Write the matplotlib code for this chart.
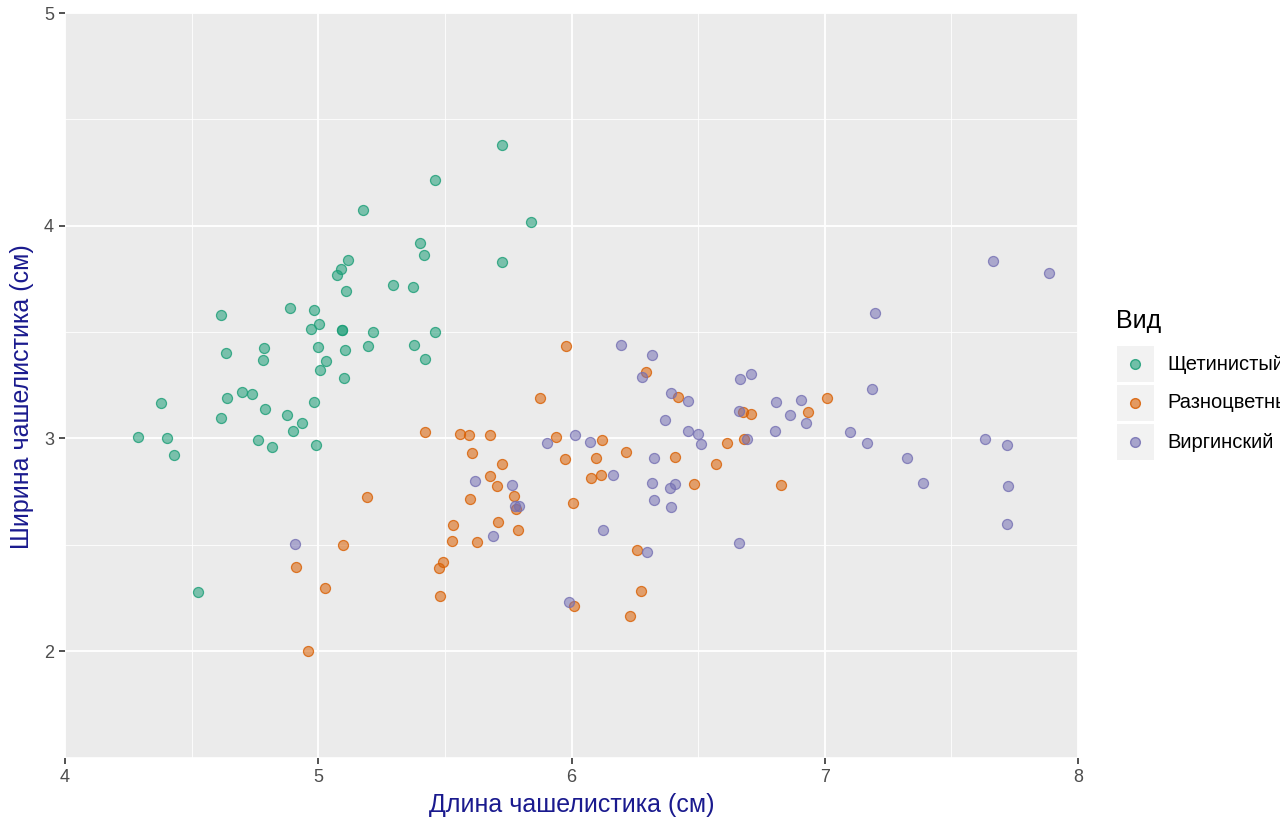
import numpy as np
import matplotlib
matplotlib.use("Agg")
from matplotlib import pyplot as plt
from matplotlib.colors import to_rgba
from matplotlib.lines import Line2D
from matplotlib.patches import Rectangle

plt.rcParams['font.family'] = ['Liberation Sans', 'DejaVu Sans']

# jittered sepal length / width
setosa_len = [5.726, 5.462, 5.178, 5.841, 5.403, 5.418, 5.117, 5.724, 5.089, 5.075,
              5.294, 5.373, 5.108, 4.617, 4.887, 4.983, 5.004, 4.971, 5.095, 5.095,
              5.215, 5.462, 4.637, 4.786, 4.999, 5.104, 5.198, 5.379, 4.781, 5.031,
              5.420, 5.008, 5.100, 4.378, 4.640, 4.698, 4.740, 4.983, 4.616, 4.791,
              4.875, 4.936, 4.900, 4.289, 4.404, 4.763, 4.990, 4.429, 4.816, 4.525]
setosa_wid = [4.381, 4.214, 4.073, 4.016, 3.917, 3.862, 3.839, 3.828, 3.797, 3.766,
              3.719, 3.711, 3.692, 3.578, 3.614, 3.602, 3.538, 3.513, 3.511, 3.511,
              3.499, 3.499, 3.402, 3.425, 3.430, 3.414, 3.433, 3.439, 3.369, 3.364,
              3.375, 3.323, 3.284, 3.166, 3.189, 3.220, 3.209, 3.172, 3.096, 3.138,
              3.108, 3.073, 3.037, 3.009, 3.002, 2.994, 2.970, 2.920, 2.961, 2.277]

versicolor_len = [5.978, 5.874, 6.294, 6.419, 5.423, 5.560, 5.594, 5.678, 5.938, 6.122,
                  5.608, 5.976, 6.097, 6.214, 6.407, 5.727, 5.677, 5.705, 6.077, 6.118,
                  5.194, 5.600, 5.772, 5.782, 6.006, 5.531, 5.710, 5.788, 5.528, 5.627,
                  5.097, 4.911, 5.493, 5.478, 5.028, 5.481, 6.259, 6.276, 6.231, 6.011,
                  4.960, 7.010, 6.679, 6.708, 6.932, 6.683, 6.615, 6.569, 6.483, 6.829]
versicolor_wid = [3.433, 3.189, 3.313, 3.193, 3.031, 3.019, 3.017, 3.016, 3.005, 2.991,
                  2.930, 2.905, 2.909, 2.938, 2.914, 2.880, 2.825, 2.778, 2.816, 2.827,
                  2.725, 2.717, 2.730, 2.670, 2.698, 2.595, 2.605, 2.570, 2.520, 2.512,
                  2.498, 2.395, 2.417, 2.392, 2.295, 2.261, 2.477, 2.281, 2.166, 2.212,
                  1.999, 3.189, 3.122, 3.114, 3.124, 2.998, 2.980, 2.878, 2.784, 2.779]

virginica_len = [7.664, 7.885, 7.198, 6.195, 6.318, 6.277, 6.393, 6.460, 7.188, 6.369,
                 6.664, 6.709, 6.806, 6.906, 6.663, 6.864, 6.927, 6.803, 6.459, 6.498,
                 6.511, 7.099, 7.166, 6.694, 6.014, 5.903, 6.073, 6.327, 7.326, 7.634,
                 7.721, 6.165, 6.318, 6.407, 6.387, 6.325, 6.393, 7.386, 7.725, 7.719,
                 6.124, 6.661, 6.298, 5.990, 5.619, 5.766, 5.777, 5.794, 5.689, 4.907]
virginica_wid = [3.833, 3.778, 3.590, 3.440, 3.392, 3.289, 3.215, 3.177, 3.234, 3.086,
                 3.278, 3.303, 3.172, 3.183, 3.130, 3.108, 3.072, 3.036, 3.036, 3.023,
                 2.975, 3.030, 2.978, 2.997, 3.016, 2.978, 2.981, 2.909, 2.909, 2.997,
                 2.967, 2.828, 2.789, 2.788, 2.767, 2.711, 2.678, 2.791, 2.777, 2.599,
                 2.569, 2.508, 2.467, 2.230, 2.798, 2.780, 2.683, 2.683, 2.539, 2.506]

species = ['Щетинистый', 'Разноцветный', 'Виргинский']
colors = ['#1B9E77', '#D95F02', '#7570B3']
series = [(setosa_len, setosa_wid), (versicolor_len, versicolor_wid), (virginica_len, virginica_wid)]

x_ticks = [4, 5, 6, 7, 8]
y_ticks = [2, 3, 4, 5]

fig = plt.figure(figsize=(12.8, 8.32), dpi=100)
ax = fig.add_axes([65 / 1280, 1 - 757.5 / 832, (1078 - 65) / 1280, (757.5 - 13) / 832])
ax.set_facecolor('#EBEBEB')

for (xs, ys), c in zip(series, colors):
    ax.scatter(xs, ys, s=52, facecolor=to_rgba(c, 0.55), edgecolors=to_rgba(c, 0.8),
               linewidths=0.9, zorder=3)

ax.set_xlim(4, 8)
ax.set_ylim(1.5, 5)
ax.set_xticks(x_ticks)
ax.set_yticks(y_ticks)
ax.set_xticks(np.arange(4.5, 8, 1.0), minor=True)
ax.set_yticks(np.arange(1.5, 5, 1.0), minor=True)
ax.grid(which='major', color='white', linewidth=1.3, zorder=0)
ax.grid(which='minor', color='white', linewidth=0.6, zorder=0)
ax.set_axisbelow(True)
for s in ax.spines.values():
    s.set_visible(False)
ax.tick_params(which='major', length=4, width=1.2, color='#333333', labelsize=13,
               labelcolor='#4D4D4D', pad=4)
ax.tick_params(which='minor', length=0)

ax.set_xlabel('Длина чашелистика (см)', fontsize=18, color='#1a1a8e', labelpad=5)
ax.set_ylabel('Ширина чашелистика (см)', fontsize=18, color='#1a1a8e')
ax.yaxis.set_label_coords(-0.031, 0.485)

# legend drawn by hand, ggplot style, clipped by the figure edge
fig.text(1116 / 1280, 1 - 321 / 832, 'Вид', fontsize=18, va='center', ha='left')
key_tops = [346, 385, 424]
for y0, name, c in zip(key_tops, species, colors):
    fig.patches.append(Rectangle((1117 / 1280, 1 - (y0 + 36.5) / 832), 36.5 / 1280, 36.5 / 832,
                                 transform=fig.transFigure, facecolor='#F2F2F2',
                                 edgecolor='none'))
    fig.lines.append(Line2D([1135 / 1280], [1 - (y0 + 18) / 832], transform=fig.transFigure,
                            marker='o', markersize=7, markerfacecolor=to_rgba(c, 0.6),
                            markeredgecolor=to_rgba(c, 0.85), linestyle='none'))
    fig.text(1167 / 1280, 1 - (y0 + 18) / 832, name, fontsize=14.5, va='center', ha='left')

fig.savefig('out.png', dpi=100)
